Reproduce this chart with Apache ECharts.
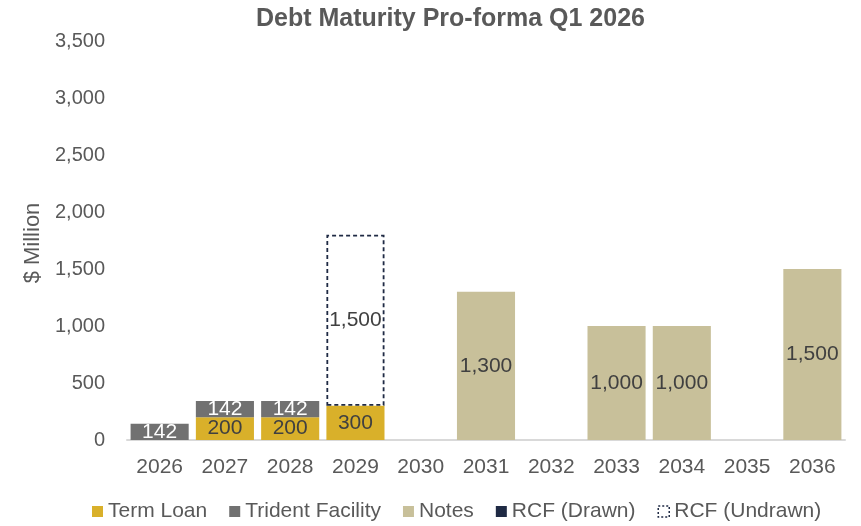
<!DOCTYPE html>
<html>
<head>
<meta charset="utf-8">
<script src="https://cdn.jsdelivr.net/npm/echarts@6/dist/echarts.min.js"></script>
<style>
  html, body { margin: 0; padding: 0; background: #fff; }
  #chart { width: 861px; height: 526px; }
</style>
</head>
<body>
<div id="chart"></div>
<script>
// 年份
var years = ['2026', '2027', '2028', '2029', '2030', '2031', '2032', '2033', '2034', '2035', '2036'];
// 各类债务 ($ Million), null = 无
var termLoan = [null, 200, 200, 300, null, null, null, null, null, null, null];
var trident = [142, 142, 142, null, null, null, null, null, null, null, null];
var notes = [null, null, null, null, null, 1300, null, 1000, 1000, null, 1500];
var rcfDrawn = [null, null, null, null, null, null, null, null, null, null, null];
var rcfUndrawn = [null, null, null, 1500, null, null, null, null, null, null, null];
var yTicks = [0, 500, 1000, 1500, 2000, 2500, 3000, 3500];

var font = 'Liberation Sans, Arial, sans-serif';

function fmt(p) {
    return p.value == null ? '' : Number(p.value).toLocaleString('en-US');
}

function makeLabel(color) {
    return {
        show: true,
        position: 'inside',
        formatter: fmt,
        color: color,
        fontSize: 21,
        fontFamily: font
    };
}

var chart = echarts.init(document.getElementById('chart'));
chart.setOption({
    animation: false,
    title: {
        text: 'Debt Maturity Pro-forma Q1 2026',
        left: 251,
        top: 2,
        textStyle: {
            color: '#595959',
            fontSize: 25,
            fontWeight: 'bold',
            fontFamily: font
        }
    },
    legend: {
        left: 87,
        top: 496,
        itemWidth: 11,
        itemHeight: 11,
        itemGap: 22,
        textStyle: { color: '#595959', fontSize: 21, fontFamily: font },
        data: [
            { name: 'Term Loan', icon: 'rect' },
            { name: 'Trident Facility', icon: 'rect' },
            { name: 'Notes', icon: 'rect' },
            { name: 'RCF (Drawn)', icon: 'rect' },
            { name: 'RCF (Undrawn)', icon: 'rect',
              itemStyle: { borderType: [2, 2], borderWidth: 1.5 } }
        ]
    },
    grid: {
        left: 127,
        right: 16,
        top: 41,
        bottom: 86
    },
    xAxis: {
        type: 'category',
        data: years,
        axisLine: { lineStyle: { color: '#D9D9D9', width: 2 } },
        axisTick: { show: false },
        axisLabel: { color: '#595959', fontSize: 21, fontFamily: font, margin: 17 }
    },
    yAxis: {
        type: 'value',
        min: yTicks[0],
        max: yTicks[yTicks.length - 1],
        interval: 500,
        name: '$ Million',
        nameLocation: 'middle',
        nameGap: 77,
        nameTextStyle: { color: '#595959', fontSize: 22, fontFamily: font, padding: [0, 5, 0, 0] },
        axisLine: { show: false },
        axisTick: { show: false },
        splitLine: { show: false },
        axisLabel: {
            color: '#595959',
            fontSize: 20,
            fontFamily: font,
            margin: 22,
            formatter: function (v) { return v.toLocaleString('en-US'); }
        }
    },
    series: [
        {
            name: 'Term Loan',
            type: 'bar',
            stack: 'total',
            barCategoryGap: '11%',
            data: termLoan,
            itemStyle: { color: '#D9B02A' },
            label: makeLabel('#404040')
        },
        {
            name: 'Trident Facility',
            type: 'bar',
            stack: 'total',
            data: trident,
            itemStyle: { color: '#717171' },
            label: makeLabel('#ffffff')
        },
        {
            name: 'Notes',
            type: 'bar',
            stack: 'total',
            data: notes,
            itemStyle: { color: '#C8C09A' },
            label: makeLabel('#404040')
        },
        {
            name: 'RCF (Drawn)',
            type: 'bar',
            stack: 'total',
            data: rcfDrawn,
            itemStyle: { color: '#1F2A44' },
            label: makeLabel('#ffffff')
        },
        {
            name: 'RCF (Undrawn)',
            type: 'bar',
            stack: 'total',
            data: rcfUndrawn,
            itemStyle: {
                color: '#ffffff',
                borderColor: '#1F2A44',
                borderWidth: 1.8,
                borderType: [4, 3]
            },
            label: makeLabel('#404040')
        }
    ]
});
</script>
</body>
</html>
